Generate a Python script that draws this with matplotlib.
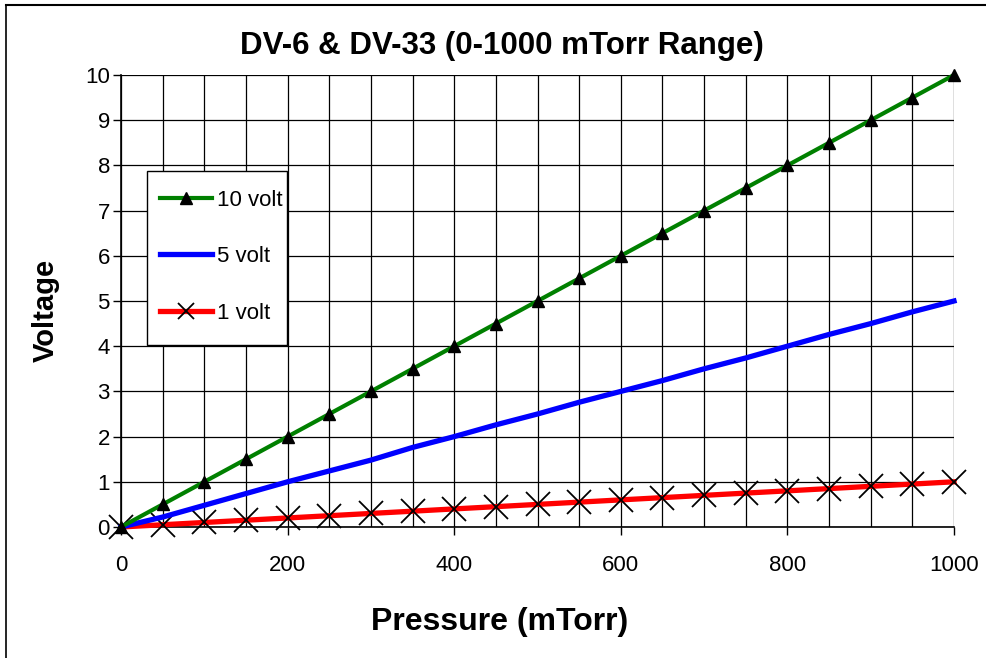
import numpy as np
import matplotlib
matplotlib.use("Agg")
import matplotlib.pyplot as plt
from matplotlib.lines import Line2D
from matplotlib.patches import Rectangle

plt.rcParams['font.family'] = ['Liberation Sans', 'DejaVu Sans']

# pressure points (mTorr)
pressure = [0, 50, 100, 150, 200, 250, 300, 350, 400, 450, 500,
            550, 600, 650, 700, 750, 800, 850, 900, 950, 1000]

# output voltage for each range setting
volt_10 = [0, 0.5, 1.0, 1.5, 2.0, 2.5, 3.0, 3.5, 4.0, 4.5, 5.0,
           5.5, 6.0, 6.5, 7.0, 7.5, 8.0, 8.5, 9.0, 9.5, 10.0]
volt_5 = [0, 0.22, 0.48, 0.74, 1.0, 1.24, 1.48, 1.76, 2.0, 2.26, 2.5,
          2.76, 3.0, 3.24, 3.5, 3.74, 4.0, 4.26, 4.5, 4.76, 5.0]
volt_1 = [0, 0.05, 0.1, 0.15, 0.2, 0.25, 0.3, 0.35, 0.4, 0.45, 0.5,
          0.55, 0.6, 0.65, 0.7, 0.75, 0.8, 0.85, 0.9, 0.95, 1.0]

labels = ["10 volt", "5 volt", "1 volt"]

fig = plt.figure(figsize=(9.86, 6.58), dpi=100)
ax = fig.add_axes([121/986, 1 - 527/658, (954 - 121)/986, (527 - 75)/658])

ax.plot(pressure, volt_1, color='red', lw=3.8, marker='x', ms=17, mew=1.3,
        mec='black', zorder=3, clip_on=False)
ax.plot(pressure, volt_5, color='blue', lw=3.8, zorder=4, clip_on=False)
ax.plot(pressure, volt_10, color='green', lw=3.0, marker='^', ms=9,
        mfc='black', mec='black', zorder=5, clip_on=False)

ax.set_xlim(0, 1000)
ax.set_ylim(0, 10)
ax.set_xticks(np.arange(0, 1001, 200))
ax.set_xticks(np.arange(0, 1001, 50), minor=True)
ax.set_yticks(np.arange(0, 11, 1))
ax.grid(True, which='both', axis='x', color='black', lw=0.9)
ax.grid(True, which='major', axis='y', color='black', lw=0.9)
ax.set_axisbelow(True)
ax.tick_params(axis='both', which='major', direction='out', length=6,
               width=1, labelsize=16)
ax.tick_params(axis='x', which='major', pad=14)
ax.tick_params(axis='y', which='major', pad=2)
ax.tick_params(axis='x', which='minor', length=0)
for s in ['top', 'right']:
    ax.spines[s].set_visible(False)
ax.spines['left'].set_linewidth(1.2)
ax.spines['bottom'].set_linewidth(1.2)

fig.text(500/986, 1 - 622/658, "Pressure (mTorr)", ha='center', va='center',
         fontsize=23, fontweight='bold')
fig.text(46/986, 1 - 310/658, "Voltage", ha='center', va='center',
         rotation=90, fontsize=21, fontweight='bold')
fig.text(502/986, 1 - 46/658, "DV-6 & DV-33 (0-1000 mTorr Range)", ha='center',
         va='center', fontsize=22.5, fontweight='bold')

# legend box drawn separately so its padding matches
box = Rectangle(((147 - 121)/833, (527 - 345)/452), 140/833, 174/452,
                transform=ax.transAxes, facecolor='white', edgecolor='black',
                lw=1.0, zorder=6, clip_on=False)
ax.add_patch(box)

handles = [Line2D([], [], color='green', lw=3.0, marker='^', ms=9,
                  mfc='black', mec='black'),
           Line2D([], [], color='blue', lw=3.8),
           Line2D([], [], color='red', lw=3.8, marker='x', ms=11, mew=1.3,
                  mec='black')]
leg = ax.legend(handles, labels, loc='upper left',
                bbox_to_anchor=((147 - 121)/833, (527 - 177)/452),
                fontsize=16, frameon=False, borderpad=0.57,
                labelspacing=1.6, handlelength=2.35, handletextpad=0.25,
                borderaxespad=0)
leg.set_zorder(7)

# outer chart border (only top and left visible)
fig.add_artist(Line2D([6/986, 1], [1 - 5/658, 1 - 5/658], color='black', lw=1.5))
fig.add_artist(Line2D([6/986, 6/986], [0, 1 - 5/658], color='black', lw=1.2))

fig.savefig("out.png", dpi=100)
